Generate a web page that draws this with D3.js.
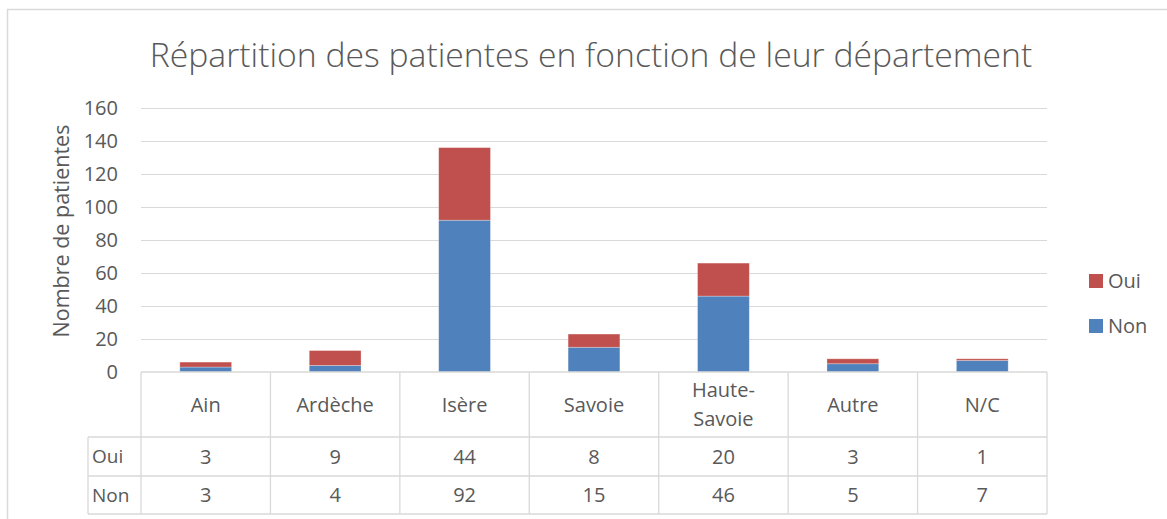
<!DOCTYPE html>
<html lang="fr">
<head>
    <meta charset="UTF-8">
    <title>Répartition des patientes en fonction de leur département</title>
    <script src="https://d3js.org/d3.v7.min.js"></script>
    <style>
        body {
            margin: 0;
            background: #fff;
        }
        svg {
            font-family: "Open Sans", sans-serif;
            display: block;
        }
        .grid line {
            stroke: #d9d9d9;
            stroke-width: 1px;
        }
        .tbl line {
            stroke: #d9d9d9;
            stroke-width: 1.3px;
        }
        text {
            fill: #595959;
        }
    </style>
</head>
<body>
    <svg width="1167" height="519"></svg>
    <script>
        // data
        const categories = ["Ain", "Ardèche", "Isère", "Savoie", "Haute-Savoie", "Autre", "N/C"];
        const nonValues = [3, 4, 92, 15, 46, 5, 7];
        const ouiValues = [3, 9, 44, 8, 20, 3, 1];
        const yTicks = [0, 20, 40, 60, 80, 100, 120, 140, 160];

        const svg = d3.select("svg");

        // chart frame
        svg.append("rect")
            .attr("x", 7.5).attr("y", 9.5)
            .attr("width", 1200).attr("height", 560)
            .attr("fill", "none")
            .attr("stroke", "#d9d9d9")
            .attr("stroke-width", 1.5);

        const plot = {left: 141, right: 1047, top: 108, bottom: 372};
        const rows = {cat: 437, oui: 476, non: 514, head: 88};

        const x = d3.scaleBand()
            .domain(categories)
            .range([plot.left, plot.right])
            .paddingInner(0.6)
            .paddingOuter(0.3);

        const y = d3.scaleLinear()
            .domain([0, 160])
            .range([plot.bottom, plot.top]);

        // grid
        svg.append("g").attr("class", "grid")
            .selectAll("line")
            .data(yTicks.slice(1))
            .join("line")
            .attr("x1", plot.left).attr("x2", plot.right)
            .attr("y1", d => Math.round(y(d)) + 0.5)
            .attr("y2", d => Math.round(y(d)) + 0.5);

        // y tick labels
        svg.append("g")
            .selectAll("text")
            .data(yTicks)
            .join("text")
            .attr("x", 118)
            .attr("y", d => y(d))
            .attr("dy", "0.36em")
            .attr("text-anchor", "end")
            .attr("font-size", 20)
            .text(d => d);

        // y axis title
        svg.append("text")
            .attr("transform", `translate(69,231) rotate(-90)`)
            .attr("text-anchor", "middle")
            .attr("font-size", 21.5)
            .text("Nombre de patientes");

        // stacked bars
        const series = [
            {name: "Non", color: "#4f81bd", values: nonValues},
            {name: "Oui", color: "#c0504d", values: ouiValues}
        ];
        const stacked = categories.map((c, i) => {
            let base = 0;
            return series.map(s => {
                const seg = {cat: c, y0: base, y1: base + s.values[i], color: s.color};
                base += s.values[i];
                return seg;
            });
        }).flat();

        svg.append("g")
            .selectAll("rect")
            .data(stacked)
            .join("rect")
            .attr("x", d => x(d.cat))
            .attr("width", x.bandwidth())
            .attr("y", d => y(d.y1))
            .attr("height", d => y(d.y0) - y(d.y1))
            .attr("fill", d => d.color)
            .attr("stroke", "#fff")
            .attr("stroke-opacity", 0.35)
            .attr("stroke-width", 0.8);

        // data table
        const step = x.step();
        const colEdges = categories.map((c, i) => plot.left + i * step).concat([plot.right]);
        const tbl = svg.append("g").attr("class", "tbl");

        // horizontal lines
        [[plot.left, plot.right, plot.bottom],
         [rows.head, plot.right, rows.cat],
         [rows.head, plot.right, rows.oui],
         [rows.head, plot.right, rows.non]].forEach(l => {
            tbl.append("line")
                .attr("x1", l[0]).attr("x2", l[1])
                .attr("y1", l[2]).attr("y2", l[2]);
        });
        // vertical lines
        colEdges.forEach(cx => {
            tbl.append("line")
                .attr("x1", cx).attr("x2", cx)
                .attr("y1", plot.bottom).attr("y2", rows.non);
        });
        tbl.append("line")
            .attr("x1", rows.head).attr("x2", rows.head)
            .attr("y1", rows.cat).attr("y2", rows.non);

        // category labels
        categories.forEach(c => {
            const cx = x(c) + x.bandwidth() / 2;
            const parts = c === "Haute-Savoie" ? ["Haute-", "Savoie"] : [c];
            const midY = (plot.bottom + rows.cat) / 2;
            parts.forEach((p, j) => {
                svg.append("text")
                    .attr("x", cx)
                    .attr("y", midY + (j - (parts.length - 1) / 2) * 29)
                    .attr("dy", "0.36em")
                    .attr("text-anchor", "middle")
                    .attr("font-size", 20)
                    .text(p);
            });
        });

        // table rows
        const tableRows = [
            {label: "Oui", values: ouiValues, top: rows.cat, bottom: rows.oui},
            {label: "Non", values: nonValues, top: rows.oui, bottom: rows.non}
        ];
        tableRows.forEach(r => {
            const my = (r.top + r.bottom) / 2;
            svg.append("text")
                .attr("x", rows.head + 4)
                .attr("y", my)
                .attr("dy", "0.36em")
                .attr("font-size", 19)
                .text(r.label);
            r.values.forEach((v, i) => {
                svg.append("text")
                    .attr("x", x(categories[i]) + x.bandwidth() / 2)
                    .attr("y", my)
                    .attr("dy", "0.36em")
                    .attr("text-anchor", "middle")
                    .attr("font-size", 20)
                    .text(v);
            });
        });

        // legend
        const legend = svg.append("g")
            .selectAll("g")
            .data(series.slice().reverse())
            .join("g")
            .attr("transform", (d, i) => `translate(1089,${274 + i * 45})`);
        legend.append("rect")
            .attr("width", 14).attr("height", 14)
            .attr("fill", d => d.color);
        legend.append("text")
            .attr("x", 19).attr("y", 7)
            .attr("dy", "0.36em")
            .attr("font-size", 20)
            .text(d => d.name);

        // title, fitted to the reference width
        const title = svg.append("text")
            .attr("x", 591)
            .attr("y", 67)
            .attr("text-anchor", "middle")
            .attr("font-size", 32)
            .attr("font-weight", 300)
            .text("Répartition des patientes en fonction de leur département");
        const w = title.node().getComputedTextLength();
        title.attr("font-size", 32 * 883 / w);
    </script>
</body>
</html>
